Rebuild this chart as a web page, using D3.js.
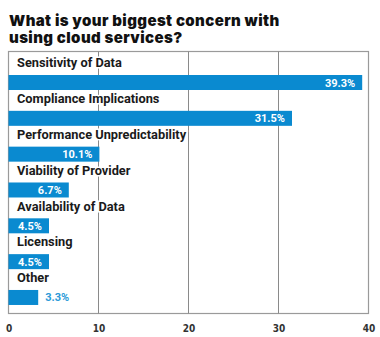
<!DOCTYPE html>
<html>
<head>
<meta charset="utf-8">
<script src="https://cdn.jsdelivr.net/npm/d3@7"></script>
<style>
  html, body { margin: 0; padding: 0; background: #fff; }
  svg { display: block; }
  .title { font-family: Inter, "Liberation Sans", sans-serif; font-weight: 900; font-size: 15px;
           letter-spacing: 0.4px; fill: #111; }
  .cat { font-family: Roboto, "Liberation Sans", sans-serif; font-weight: 700; font-size: 12.8px; fill: #1a1a1a;
         stroke: #fff; stroke-width: 3px; paint-order: stroke; }
  .val { font-family: Roboto, "Liberation Sans", sans-serif; font-weight: 700; font-size: 11px; }
  .axis text { font-family: "Liberation Sans Narrow", "DejaVu Sans Condensed", sans-serif; font-stretch: condensed;
               font-weight: 700; font-size: 10px; fill: #333; }
</style>
</head>
<body>
<div id="chart"></div>
<script>
// Survey answers, top to bottom.
const categories = [
  "Sensitivity of Data",
  "Compliance Implications",
  "Performance Unpredictability",
  "Viability of Provider",
  "Availability of Data",
  "Licensing",
  "Other"
];
const shares = [39.3, 31.5, 10.1, 6.7, 4.5, 4.5, 3.3];
const xTicks = [0, 10, 20, 30, 40];
const titleLines = ["What is your biggest concern with", "using cloud services?"];

const width = 380;
const height = 337;
const barColor = "#0a8ad0";
const gridColor = "#8a8a8a";

// Plot frame.
const frame = { left: 8.5, right: 368.5, top: 51.5, bottom: 313.5 };
const barHeight = 15;

const svg = d3.select("#chart")
  .append("svg")
  .attr("width", width)
  .attr("height", height);

const rows = categories.map((c, i) => ({ name: c, value: shares[i] }));

const xScale = d3.scaleLinear()
  .domain([0, 40])
  .range([frame.left, frame.right]);

// Each row holds a label on top and a bar underneath.
const yScale = d3.scaleBand()
  .domain(categories)
  .range([54.2, 305.0]);

// Title, one text per line.
svg.append("g")
  .selectAll("text")
  .data(titleLines)
  .enter()
  .append("text")
  .attr("class", "title")
  .attr("x", 9)
  .attr("y", (d, i) => 25.5 + i * 17.5)
  .text((d) => d);

// Frame and vertical gridlines.
svg.append("rect")
  .attr("x", frame.left)
  .attr("y", frame.top)
  .attr("width", frame.right - frame.left)
  .attr("height", frame.bottom - frame.top)
  .attr("fill", "none")
  .attr("stroke", "#9a9a9a")
  .attr("stroke-width", 1.2);

svg.append("g")
  .selectAll("line")
  .data(xTicks.slice(1, -1))
  .enter()
  .append("line")
  .attr("x1", (d) => xScale(d))
  .attr("x2", (d) => xScale(d))
  .attr("y1", frame.top)
  .attr("y2", frame.bottom)
  .attr("stroke", gridColor)
  .attr("stroke-width", 1);

// Category labels.
svg.append("g")
  .selectAll("text")
  .data(rows)
  .enter()
  .append("text")
  .attr("class", "cat")
  .attr("x", 17)
  .attr("y", (d) => yScale(d.name) + 13)
  .text((d) => d.name);

// Bars.
svg.append("g")
  .selectAll("rect")
  .data(rows)
  .enter()
  .append("rect")
  .attr("x", xScale(0))
  .attr("y", (d) => yScale(d.name) + 20.8)
  .attr("width", (d) => xScale(d.value) - xScale(0))
  .attr("height", barHeight)
  .attr("fill", barColor);

// Value labels: inside the bar, or just past its end when it is too short.
svg.append("g")
  .selectAll("text")
  .data(rows)
  .enter()
  .append("text")
  .attr("class", "val")
  .each(function (d) {
    const inside = d.value >= 4;
    d3.select(this)
      .attr("x", inside ? xScale(d.value) - 7 : xScale(d.value) + 7)
      .attr("text-anchor", inside ? "end" : "start")
      .attr("fill", inside ? "#fff" : "#2a9ad8");
  })
  .attr("y", (d) => yScale(d.name) + 20.8 + 11.5)
  .text((d) => `${d.value}%`);

// Bottom axis, labels only.
const axis = svg.append("g")
  .attr("class", "axis")
  .attr("transform", `translate(0,${frame.bottom})`)
  .call(d3.axisBottom(xScale).tickValues(xTicks).tickSize(0).tickPadding(11));
axis.select(".domain").remove();
</script>
</body>
</html>
